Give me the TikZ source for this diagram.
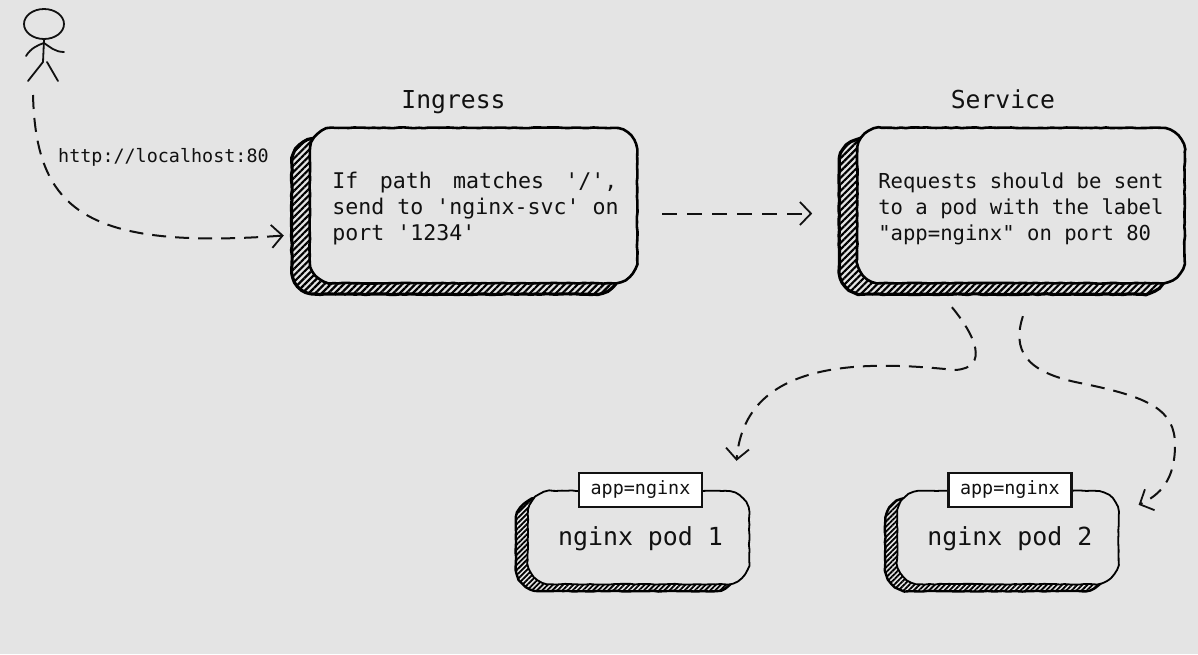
\documentclass[tikz,border=0pt]{standalone}
\usepackage{fontspec}
\setmonofont{DejaVu Sans Mono}
\usepackage{xcolor}
\usepackage{tikz}
\usetikzlibrary{arrows.meta,positioning,calc,patterns.meta,decorations.pathmorphing,shapes.geometric,backgrounds}
\definecolor{paper}{HTML}{E4E4E4}
\definecolor{ink}{HTML}{111111}
\newcommand{\sketchbox}[2]{\begin{scope}[on background layer]
\draw[rough,#2] decorate {[rounded corners=24pt] (#1.north west) -- (#1.north east) -- (#1.south east) -- (#1.south west) -- cycle};
\end{scope}}
\newcommand{\pad}{\rule{0pt}{22.2pt}\hspace*{4pt}}

\begin{document}
\begin{tikzpicture}[x=1pt,y=-1pt,color=ink,font=\ttfamily,
 rough/.style={line join=round,decoration={random steps,segment length=5pt,amplitude=.4pt}},
 box/.style={inner sep=0pt,align=left,minimum width=327pt,minimum height=155pt,font=\ttfamily\fontsize{21.6}{26}\selectfont},
 pod/.style={inner sep=0pt,minimum width=221pt,minimum height=93pt,font=\ttfamily\fontsize{24.9}{28}\selectfont},
 boxline/.style={fill=paper,line width=2.6pt},
 boxhatch/.style={line width=3.2pt,pattern={Lines[angle=45,distance=4.6pt,line width=2.2pt]}},
 podline/.style={fill=paper,line width=1.8pt},
 podhatch/.style={line width=2.4pt,pattern={Lines[angle=45,distance=3.6pt,line width=1.8pt]}},
 tag/.style={draw,fill=white,line width=2.4pt,inner sep=0pt,minimum width=123pt,minimum height=34pt,font=\ttfamily\fontsize{18.4}{22}\selectfont},
 title/.style={anchor=base,font=\ttfamily\fontsize{24.7}{28}\selectfont},
 lbl/.style={inner sep=0pt,font=\ttfamily\fontsize{18.4}{22}\selectfont},
 stick/.style={line width=1.8pt,line cap=round},
 flow/.style={-{Straight Barb[length=11pt,width=23pt,line width=1.8pt]},line width=2pt,dash pattern=on 14pt off 9pt}]
\begin{scope}[on background layer]
\fill[paper] (0,0) rectangle (1198,654);
\end{scope}
\useasboundingbox (0,0) rectangle (1198,654);
% boxes
\node[box] (ingsh) at (455.5,216.5) {};
\sketchbox{ingsh}{boxhatch}
\node[box] (ing) at ([shift={(18,-11)}]ingsh) {\pad\makebox[285pt]{If\hfill path\hfill matches\hfill '/',}\\\hspace*{4pt}send to 'nginx-svc' on\\\hspace*{4pt}port '1234'};
\sketchbox{ing}{boxline}
\node[box,right=220pt of ingsh] (svcsh) {};
\sketchbox{svcsh}{boxhatch}
\node[box,font=\ttfamily\fontsize{20.6}{26}\selectfont] (svc) at ([shift={(18,-11)}]svcsh) {\rule{0pt}{22.2pt}Requests should be sent\\to a pod with the label\\"app=nginx" on port 80};
\sketchbox{svc}{boxline}
\node[title] (ingt) at ([shift={(-2,-30)}]ingsh.north) {Ingress};
\node[title] (svct) at ([shift={(0,-30)}]svcsh.north) {Service};
% pods
\node[pod] (pod1sh) at (626.5,544.5) {};
\sketchbox{pod1sh}{podhatch}
\node[pod] (pod1) at ([shift={(12,-7)}]pod1sh) {\rule{0pt}{22pt}\hspace{4pt}nginx pod 1};
\sketchbox{pod1}{podline}
\node[tag] (tag1) at ([shift={(2,-1)}]pod1.north) {app=nginx};
\node[pod,right=148pt of pod1sh] (pod2sh) {};
\sketchbox{pod2sh}{podhatch}
\node[pod] (pod2) at ([shift={(12,-7)}]pod2sh) {\rule{0pt}{22pt}\hspace{4pt}nginx pod 2};
\sketchbox{pod2}{podline}
\node[tag] (tag2) at ([shift={(2,-1)}]pod2.north) {app=nginx};
% user
\node[draw,ellipse,line width=1.8pt,minimum width=40pt,minimum height=30pt,inner sep=0pt] (head) at (44,24) {};
\coordinate (hip) at (43,62);
\coordinate (armr) at (64,52);
\coordinate (arml) at (26,56);
\coordinate (footl) at (28,81);
\coordinate (footr) at (58,81);
\draw[stick] (head.south) -- (hip);
\draw[stick] (arml) .. controls (31,48) and (38,45) .. (44,43) .. controls (50,47) and (55,52) .. (armr);
\draw[stick] (hip) -- (footl);
\draw[stick] ([xshift=4pt]hip) -- (footr);
% connectors
\coordinate (ustart) at (33,95);
\coordinate (ingin) at ([shift={(-8,19)}]ingsh.west);
\coordinate (ingout) at ([shift={(25,8)}]ing.east);
\coordinate (svcin) at ([shift={(-27,-3)}]svcsh.west);
\coordinate (svcl) at ([shift={(-69,24)}]svc.south);
\coordinate (svcr) at ([shift={(2,33)}]svc.south);
\coordinate (pod1in) at ([shift={(98,-30)}]pod1.north);
\coordinate (pod2in) at ([shift={(20,14)}]pod2.north east);
\draw[flow] (ustart) .. controls (36,210) and (85,250) .. (ingin);
\node[lbl,anchor=base west] (url) at (58,162) {http://localhost:80};
\draw[flow,dash pattern=on 15pt off 10pt] (ingout) -- (svcin);
\draw[flow] (svcl) .. controls (975,335) and (990,368) .. (955,370) .. controls (860,360) and (745,360) .. (pod1in);
\draw[flow] (svcr) .. controls (1012,350) and (1025,372) .. (1080,383) .. controls (1150,397) and (1175,410) .. (1175,445) .. controls (1175,480) and (1160,495) .. (pod2in);
\end{tikzpicture}
\end{document}
